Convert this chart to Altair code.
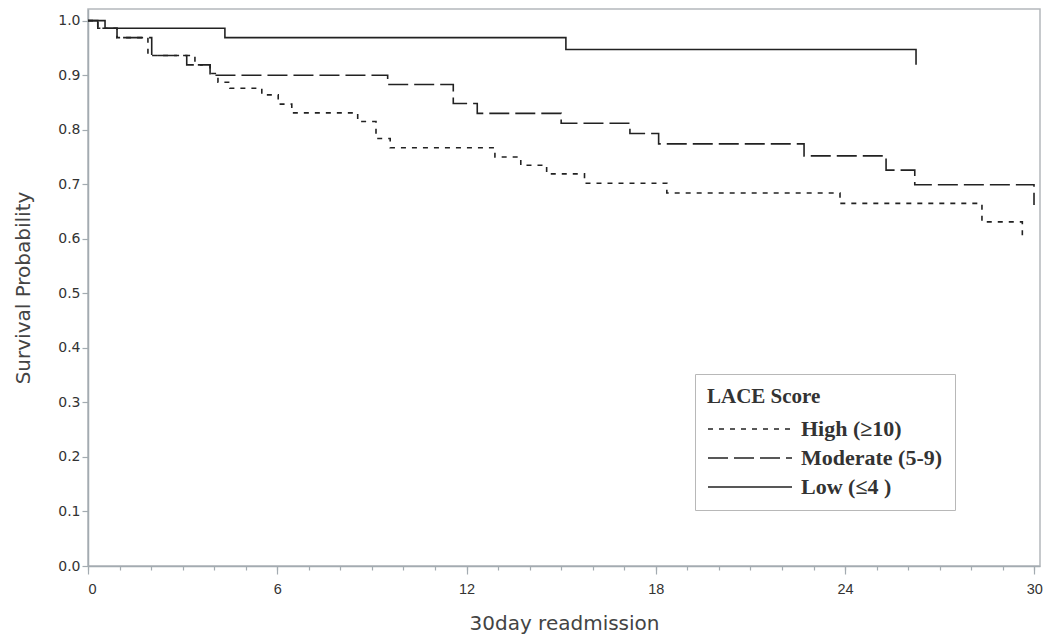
import altair as alt
import pandas as pd

# ---- data (Kaplan-Meier steps: time, survival after the step) ----
groups = ["High (≥10)", "Moderate (5-9)", "Low (≤4 )"]

high_t = [0, 0.31, 0.92, 1.90, 3.39, 3.87, 4.12, 4.50, 5.51, 6.03, 6.46, 8.55, 9.13, 9.58,
          12.90, 13.72, 14.54, 15.74, 18.35, 23.84, 28.34, 29.62]
high_s = [1.0, 0.986, 0.969, 0.936, 0.919, 0.903, 0.887, 0.876, 0.864, 0.847, 0.831, 0.815, 0.784, 0.767,
          0.750, 0.735, 0.719, 0.702, 0.684, 0.665, 0.631, 0.596]

mod_t = [0, 0.31, 0.92, 2.02, 3.13, 3.87, 9.50, 11.58, 12.34, 15.00, 17.18, 18.09, 22.70, 25.30, 26.21, 29.99]
mod_s = [1.0, 0.986, 0.969, 0.936, 0.919, 0.900, 0.883, 0.848, 0.830, 0.812, 0.793, 0.774, 0.752, 0.726, 0.699, 0.662]

low_t = [0, 0.54, 4.34, 15.15, 26.25]
low_s = [1.0, 0.986, 0.969, 0.947, 0.919]

x_major = [0, 6, 12, 18, 24, 30]
x_minor = list(range(0, 31))
y_ticks = [0.0, 0.1, 0.2, 0.3, 0.4, 0.5, 0.6, 0.7, 0.8, 0.9, 1.0]

rows = []
for g, ts, ss in zip(groups, [high_t, mod_t, low_t], [high_s, mod_s, low_s]):
    for t, s in zip(ts, ss):
        rows.append({"t": t, "s": s, "g": g})
df = pd.DataFrame(rows)

AXIS_GREY = "#a3abb1"
x_scale = alt.Scale(domain=[0, 30.18], nice=False, zero=False)
y_scale = alt.Scale(domain=[0, 1.0214], nice=False)

y_enc = alt.Y("s:Q", scale=y_scale,
              axis=alt.Axis(values=y_ticks, format=".1f", title="Survival Probability", tickSize=6,
                            labelPadding=2, titlePadding=24, grid=False, orient="left"))

lines = alt.Chart(df).mark_line(interpolate="step-after", strokeWidth=1.6, color="#222222").encode(
    x=alt.X("t:Q", scale=x_scale,
            axis=alt.Axis(values=x_major, title="30day readmission", tickSize=8, labelPadding=8,
                          titlePadding=18, grid=False, format="d", orient="bottom",
                          labelFont="Liberation Sans", labelFontSize=14.5)),
    y=y_enc,
    strokeDash=alt.StrokeDash(
        "g:N",
        scale=alt.Scale(domain=groups, range=[[5, 6], [20, 6], [1, 0]]),
        legend=alt.Legend(
            title="LACE Score", orient="none", legendX=607, legendY=365, direction="vertical",
            symbolType="stroke", symbolSize=84 * 84, symbolStrokeWidth=1.6, symbolStrokeColor="#222222",
            clipHeight=22, rowPadding=7,
            labelFont="Liberation Serif", labelFontWeight="bold", labelFontSize=22, labelColor="#333333",
            labelOffset=8, labelLimit=300,
            titleFont="Liberation Serif", titleFontWeight="bold", titleFontSize=21, titleColor="#333333",
            titlePadding=11,
            strokeColor="#b8b8b8", fillColor="white", padding=12, cornerRadius=0,
        ),
    ),
)

minor = alt.Chart(df).mark_point(opacity=0).encode(
    x=alt.X("t:Q", scale=x_scale,
            axis=alt.Axis(values=x_minor, labels=False, title=None, tickSize=4, domain=False,
                          grid=False, orient="bottom")),
    y=y_enc,
)

chart = alt.layer(lines, minor).resolve_axis(x="independent").properties(
    width=952, height=557,
    autosize=alt.AutoSizeParams(type="none"),
    padding={"left": 88, "top": 9, "right": 14, "bottom": 71},
    background="white",
).configure_view(
    stroke="#b4b8bc", strokeWidth=1.5
).configure_axis(
    domainColor=AXIS_GREY, domainWidth=1.5, tickColor=AXIS_GREY, tickWidth=1.2,
    labelFont="DejaVu Sans", labelFontSize=14, labelColor="#333333",
    titleFont="DejaVu Sans", titleFontSize=20, titleFontWeight="normal", titleColor="#444444",
)

chart.save("out.html", embed_options={"renderer": "svg", "actions": False})
